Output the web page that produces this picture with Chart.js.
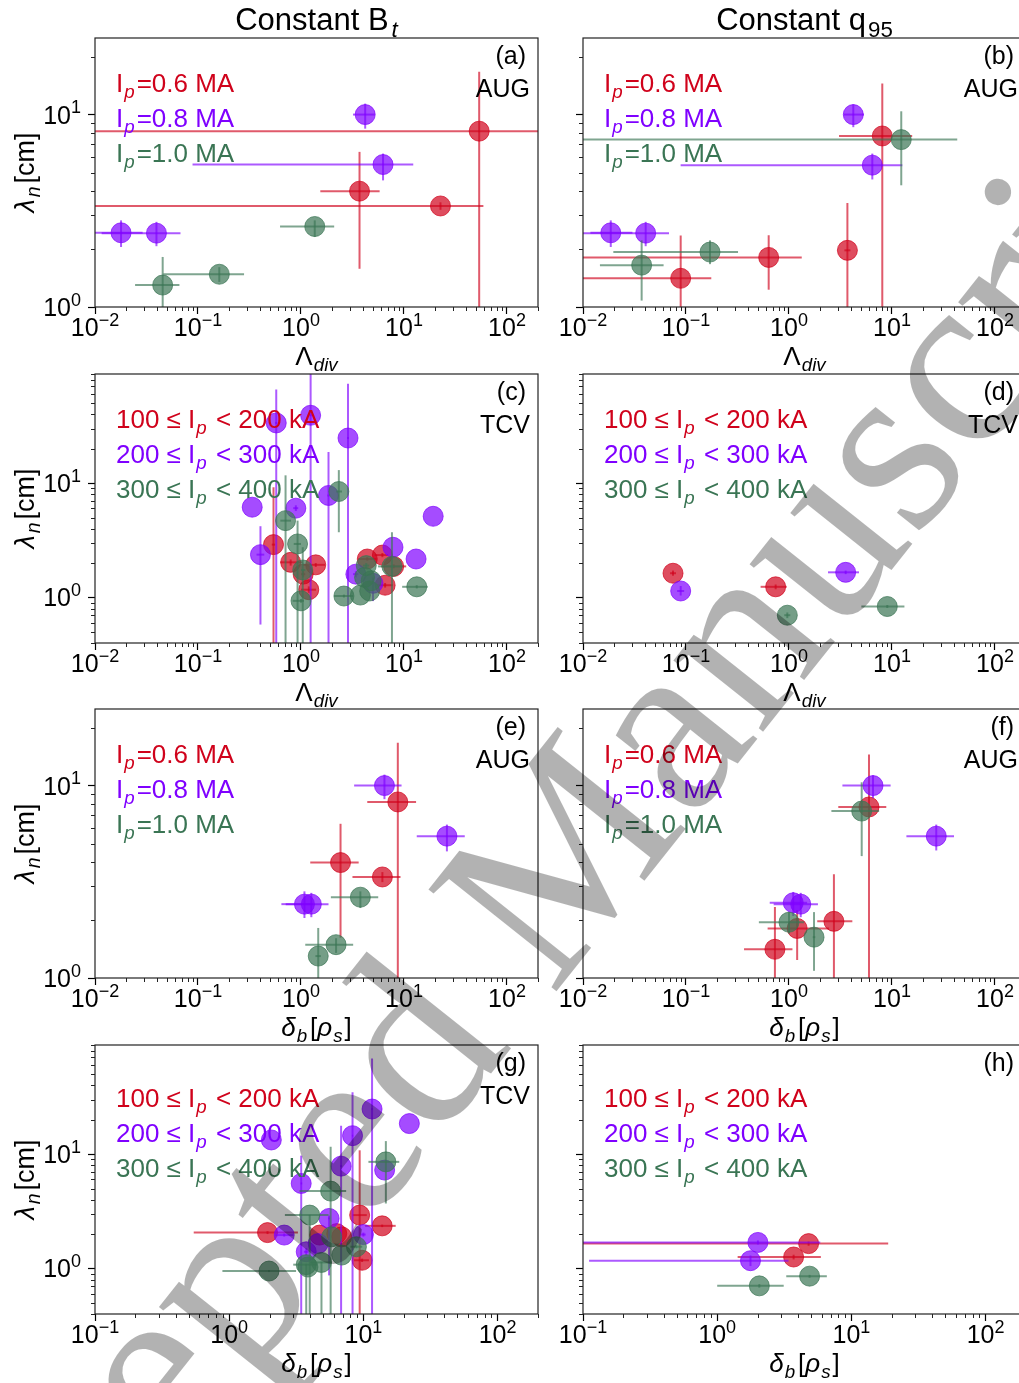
<!DOCTYPE html>
<html>
<head>
<meta charset="utf-8">
<script src="https://cdn.jsdelivr.net/npm/chart.js@4.4.1/dist/chart.umd.min.js"></script>
<style>
  html, body { margin: 0; padding: 0; background: #fff; overflow: hidden; width: 1019px; height: 1383px; }
  canvas { position: absolute; }
  #wm { pointer-events: none; z-index: 10; }
</style>
</head>
<body>
<script>
// rows: [x, y, xLow, xHigh, yLow, yHigh]  (missing = no bar)

// (a) constant Bt, AUG, vs Lambda_div
const btAugRed = [[53.7, 8.2, 0.001, 1000, 0.1, 16.7], [3.7, 4.0, 1.54, 5.8, 1.58, 6.4], [22.6, 3.35, 0.001, 59, 3.2, 3.5]];
const btAugPurple = [[4.2, 10.0, 3.2, 5.2, 8.45, 11.4], [6.26, 5.5, 0.0885, 12.3, 4.55, 6.27], [0.0179, 2.43, 0.0095, 0.029, 2.05, 2.82], [0.0395, 2.42, 0.0116, 0.0676, 2.07, 2.77]];
const btAugGreen = [[1.36, 2.62, 0.626, 2.1, 2.31, 2.82], [0.161, 1.48, 0.046, 0.28, 1.35, 1.61], [0.0454, 1.30, 0.0245, 0.066, 0.97, 1.82]];

// (b) constant q95, AUG, vs Lambda_div
const qAugRed = [[8.05, 7.74, 3.06, 15.7, 0.1, 14.5], [3.69, 1.97, 3.45, 3.95, 0.1, 3.47], [0.635, 1.81, 0.001, 1.33, 1.23, 2.36], [0.0888, 1.41, 0.001, 0.176, 0.1, 2.35]];
const qAugPurple = [[4.21, 10.0, 3.4, 5.35, 8.6, 11.3], [6.44, 5.46, 0.0887, 12.6, 4.6, 6.27], [0.0186, 2.43, 0.0118, 0.0302, 2.05, 2.82], [0.0406, 2.42, 0.001, 0.0684, 2.07, 2.77]];
const qAugGreen = [[12.3, 7.41, 0.001, 43, 4.29, 10.4], [0.171, 1.93, 0.0197, 0.32, 1.67, 2.22], [0.0371, 1.65, 0.0146, 0.0606, 1.08, 2.22]];

// (c) constant Bt, TCV, vs Lambda_div
const btTcvRed = [[0.541, 2.9, 0.52, 0.56, 0.1, 9.2], [0.794, 2.03, 0.63, 1.04, 1.9, 2.15], [1.05, 1.6, 1.0, 1.1, 1.5, 1.7], [1.39, 1.93, 1.04, 1.71, 1.85, 2.0], [1.19, 1.17, 1.0, 1.4, 1.1, 1.25], [4.4, 2.17, 3.6, 5.4, 2.1, 2.25], [6.17, 2.35, 5.2, 7.0, 2.25, 2.45], [7.94, 1.87, 6.0, 10.5, 1.8, 1.95], [6.56, 1.28, 5.5, 7.8, 1.22, 1.34]];
const btTcvPurple = [[0.336, 6.16], [0.404, 2.37, 0.37, 0.44, 0.58, 4.2], [0.575, 33.6, 0.56, 0.59, 0.1, 66], [1.24, 39.2, 1.2, 1.3, 0.1, 200], [0.891, 6.04, 0.84, 0.94, 5.7, 6.4], [1.85, 7.8, 1.8, 1.9, 0.1, 18.7], [2.86, 24.8, 2.8, 2.92, 0.1, 74], [19.2, 5.13], [7.82, 2.75], [13.1, 2.17], [3.41, 1.6, 3.2, 3.6, 1.5, 1.7], [5.0, 1.33, 4.7, 5.3, 0.93, 1.5]];
const btTcvGreen = [[2.33, 8.45, 2.2, 2.5, 3.72, 13], [0.708, 4.7, 0.63, 0.8, 0.1, 11.7], [0.926, 2.94, 0.85, 1.0, 0.1, 4.7], [1.04, 1.74, 1.0, 1.1, 0.1, 2.75], [1.0, 0.935, 0.83, 1.07, 0.9, 0.97], [2.61, 1.03, 2.1, 3.2, 1.0, 1.06], [3.77, 1.05], [4.64, 1.14], [4.3, 1.9, 4.0, 4.6, 1.8, 2.0], [7.64, 1.87, 5.6, 9.7, 0.1, 3.72], [13.3, 1.24, 9.6, 17, 1.2, 1.28], [4.14, 1.5], [4.8, 1.4]];

// (d) constant q95, TCV, vs Lambda_div
const qTcvRed = [[0.0748, 1.63, 0.07, 0.08, 1.55, 1.72], [0.742, 1.24, 0.53, 0.95, 1.18, 1.3]];
const qTcvPurple = [[0.0888, 1.14, 0.082, 0.096, 1.04, 1.26], [3.55, 1.66, 2.39, 4.78, 1.6, 1.72]];
const qTcvGreen = [[0.963, 0.70, 0.9, 1.03, 0.66, 0.74], [9.0, 0.834, 5.04, 13.2, 0.81, 0.86]];

// (e) constant Bt, AUG, vs delta_b
const btAugDbRed = [[8.71, 8.22, 4.4, 13.1, 0.1, 16.7], [2.42, 3.98, 1.23, 3.63, 1.62, 6.33], [6.17, 3.35, 3.16, 9.25, 3.15, 3.55]];
const btAugDbPurple = [[6.46, 10.0, 3.28, 9.47, 8.5, 11.4], [26.1, 5.46, 13.3, 38.9, 4.55, 6.27], [1.08, 2.42, 0.645, 1.3, 2.05, 2.82], [1.26, 2.42, 0.71, 1.85, 2.07, 2.77]];
const btAugDbGreen = [[3.77, 2.63, 1.95, 5.62, 2.31, 2.82], [2.19, 1.49, 1.1, 3.21, 1.35, 1.61], [1.47, 1.30, 1.38, 1.56, 0.97, 1.82]];

// (f) constant q95, AUG, vs delta_b
const qAugDbRed = [[5.98, 7.74, 3.01, 8.8, 0.1, 14.5], [2.73, 1.97, 1.88, 4.12, 0.1, 3.46], [1.2, 1.81, 0.62, 2.45, 1.24, 2.25], [0.73, 1.41, 0.366, 1.08, 0.1, 2.34]];
const qAugDbPurple = [[6.54, 10.0, 3.3, 9.7, 8.6, 11.3], [26.9, 5.46, 13.8, 40, 4.6, 6.27], [1.1, 2.46, 0.65, 1.5, 2.1, 2.8], [1.3, 2.42, 0.71, 1.91, 2.07, 2.77]];
const qAugDbGreen = [[5.08, 7.37, 2.58, 7.5, 4.3, 10.4], [1.0, 1.95, 0.51, 1.4, 1.7, 2.2], [1.75, 1.63, 1.7, 1.8, 1.09, 2.2]];

// (g) constant Bt, TCV, vs delta_b
const btTcvDbRed = [[1.93, 2.06, 0.544, 3.25, 2.0, 2.12], [9.38, 2.93, 8.3, 10.6, 0.1, 10.8], [13.8, 2.36, 10.3, 17.4, 2.3, 2.42], [9.78, 1.18, 8.5, 11, 1.14, 1.22], [6.33, 2.02], [6.89, 1.89], [4.72, 1.96]];
const btTcvDbPurple = [[2.06, 13.3], [3.44, 5.54, 3.4, 3.5, 0.1, 9.7], [8.3, 14.5, 8.2, 8.4, 0.1, 34.7], [11.6, 24.8, 11.4, 11.8, 0.1, 68.6], [22, 18.5], [6.82, 7.85, 6.7, 6.95, 0.1, 17.7], [14.4, 7.25], [5.55, 2.74, 5.45, 5.65, 0.87, 2.9], [2.57, 1.96, 2.2, 3.0, 1.9, 2.02], [10, 1.98, 9.6, 10.4, 1.9, 2.06], [3.75, 1.4, 3.6, 3.9, 1.3, 1.5], [4.6, 1.65]];
const btTcvDbGreen = [[14.7, 8.56, 10.9, 18.5, 3.7, 13], [5.7, 4.75, 3.34, 7.44, 0.1, 11.6], [3.98, 2.93, 2.6, 5.5, 0.1, 2.95], [1.98, 0.95, 0.89, 3.15, 0.93, 0.97], [3.75, 1.08, 3.0, 4.5, 0.1, 1.1], [4.87, 1.13, 4.0, 5.8, 0.1, 1.15], [6.89, 1.31], [5.8, 1.89], [8.87, 1.55, 8.0, 9.8, 1.5, 1.6], [3.86, 1.03]];

// (h) constant q95, TCV, vs delta_b
const qTcvDbRed = [[4.8, 1.65, 0.01, 18.8, 1.58, 1.72], [3.71, 1.26, 1.42, 5.92, 1.2, 1.32]];
const qTcvDbPurple = [[2.01, 1.69, 0.01, 5.86, 1.62, 1.76], [1.77, 1.17, 0.111, 3.4, 1.05, 1.3]];
const qTcvDbGreen = [[4.88, 0.857, 3.27, 6.56, 0.83, 0.88], [2.06, 0.705, 1.0, 3.13, 0.68, 0.73]];

// legend texts
const augCurrents = ['0.6', '0.8', '1.0'];
const tcvRanges = [['100', '200'], ['200', '300'], ['300', '400']];

const RGB = ['208,2,27', '127,0,255', '58,117,84'];
const FONT = '"Liberation Sans", Arial, sans-serif';

// page layout
const COLS = [95, 583];
const ROWS = [38, 374, 709, 1045];
const PW = 443, PH = 269;
const ML = 95, MT = 38, MR = 10, MB = 75;

// draw text made of pieces: [text, style] with style '', 'i', 'sub', 'subi', 'sup', or ['', 'gap', px]
function rich(ctx, x, y, parts, size, align) {
    let w = 0;
    const segs = parts.map(([t, st, gap]) => {
        if (st === 'gap') { w += gap; return { t: '', font: '', sw: gap, dy: 0 }; }
        const small = st.startsWith('sub') || st === 'sup';
        const fs = small ? size * 0.72 : size;
        const font = (st === 'i' || st === 'subi' ? 'italic ' : '') + fs + 'px ' + FONT;
        ctx.font = font;
        const sw = ctx.measureText(t).width;
        const dy = st.startsWith('sub') ? size * 0.22 : st === 'sup' ? -size * 0.42 : 0;
        w += sw;
        return { t, font, sw, dy };
    });
    let cx = align === 'center' ? x - w / 2 : align === 'right' ? x - w : x;
    ctx.textAlign = 'left';
    ctx.textBaseline = 'alphabetic';
    segs.forEach(s => {
        if (s.t) { ctx.font = s.font; ctx.fillText(s.t, cx, y + s.dy); }
        cx += s.sw;
    });
}

function powLabel(v) {
    const e = Math.round(Math.log10(v));
    return [['10', ''], [e < 0 ? '\u2212' + (-e) : String(e), 'sup']];
}

function majors(min, max) {
    const out = [];
    for (let e = Math.ceil(Math.log10(min) - 1e-9); e <= Math.floor(Math.log10(max) + 1e-9); e++) out.push({ value: Math.pow(10, e) });
    return out;
}

function minors(min, max) {
    const out = [];
    for (let e = Math.floor(Math.log10(min)) - 1; e <= Math.ceil(Math.log10(max)); e++) {
        for (let k = 2; k <= 9; k++) {
            const v = k * Math.pow(10, e);
            if (v >= min * 0.999 && v <= max * 1.001) out.push(v);
        }
    }
    return out;
}

const panels = [
    { col: 0, row: 0, xmin: 0.01, ymin: 1, ymax: 25, series: [btAugRed, btAugPurple, btAugGreen], aug: true, tag: '(a)', dev: 'AUG', xl: 'div', title: 'bt' },
    { col: 1, row: 0, xmin: 0.01, ymin: 1, ymax: 25, series: [qAugRed, qAugPurple, qAugGreen], aug: true, tag: '(b)', dev: 'AUG', xl: 'div', title: 'q' },
    { col: 0, row: 1, xmin: 0.01, ymin: 0.4, ymax: 90, series: [btTcvRed, btTcvPurple, btTcvGreen], aug: false, tag: '(c)', dev: 'TCV', xl: 'div' },
    { col: 1, row: 1, xmin: 0.01, ymin: 0.4, ymax: 90, series: [qTcvRed, qTcvPurple, qTcvGreen], aug: false, tag: '(d)', dev: 'TCV', xl: 'div' },
    { col: 0, row: 2, xmin: 0.01, ymin: 1, ymax: 25, series: [btAugDbRed, btAugDbPurple, btAugDbGreen], aug: true, tag: '(e)', dev: 'AUG', xl: 'db' },
    { col: 1, row: 2, xmin: 0.01, ymin: 1, ymax: 25, series: [qAugDbRed, qAugDbPurple, qAugDbGreen], aug: true, tag: '(f)', dev: 'AUG', xl: 'db' },
    { col: 0, row: 3, xmin: 0.1, ymin: 0.4, ymax: 90, series: [btTcvDbRed, btTcvDbPurple, btTcvDbGreen], aug: false, tag: '(g)', dev: 'TCV', xl: 'db', legY: 8 },
    { col: 1, row: 3, xmin: 0.1, ymin: 0.4, ymax: 90, series: [qTcvDbRed, qTcvDbPurple, qTcvDbGreen], aug: false, tag: '(h)', dev: '', xl: 'db', legY: 8 }
];

function makePanel(p) {
    const cv = document.createElement('canvas');
    cv.width = ML + PW + MR;
    cv.height = MT + PH + MB;
    cv.style.left = (COLS[p.col] - ML) + 'px';
    cv.style.top = (ROWS[p.row] - MT) + 'px';
    document.body.appendChild(cv);

    const deco = {
        id: 'deco',
        beforeDatasetDraw(chart, args) {
            const { ctx, chartArea: a, scales: { x, y } } = chart;
            const ds = chart.data.datasets[args.index];
            ctx.save();
            ctx.beginPath();
            ctx.rect(a.left, a.top, a.right - a.left, a.bottom - a.top);
            ctx.clip();
            ctx.strokeStyle = ds.barColor;
            ctx.lineWidth = 2;
            ds.data.forEach(d => {
                const px = x.getPixelForValue(d.x), py = y.getPixelForValue(d.y);
                if (d.xlo != null) {
                    ctx.beginPath();
                    ctx.moveTo(x.getPixelForValue(d.xlo), py);
                    ctx.lineTo(x.getPixelForValue(d.xhi), py);
                    ctx.stroke();
                }
                if (d.ylo != null) {
                    ctx.beginPath();
                    ctx.moveTo(px, y.getPixelForValue(d.ylo));
                    ctx.lineTo(px, y.getPixelForValue(d.yhi));
                    ctx.stroke();
                }
            });
            ctx.restore();
        },
        afterDraw(chart) {
            const { ctx, chartArea: a, scales: { x, y } } = chart;
            ctx.save();
            // frame
            ctx.strokeStyle = '#222';
            ctx.lineWidth = 1.2;
            ctx.strokeRect(a.left, a.top, a.right - a.left, a.bottom - a.top);
            // minor ticks
            ctx.lineWidth = 1;
            ctx.beginPath();
            minors(p.xmin, 200).forEach(v => {
                const px = Math.round(x.getPixelForValue(v)) + 0.5;
                ctx.moveTo(px, a.bottom); ctx.lineTo(px, a.bottom + 4);
            });
            minors(p.ymin, p.ymax).forEach(v => {
                const py = Math.round(y.getPixelForValue(v)) + 0.5;
                ctx.moveTo(a.left, py); ctx.lineTo(a.left - 4, py);
            });
            ctx.stroke();

            ctx.fillStyle = '#000';
            // tick labels
            majors(p.xmin, 200).forEach(t => rich(ctx, x.getPixelForValue(t.value), a.bottom + 29, powLabel(t.value), 25, 'center'));
            if (p.col === 0) {
                majors(p.ymin, p.ymax).forEach(t => rich(ctx, a.left - 14, y.getPixelForValue(t.value) + 9, powLabel(t.value), 25, 'right'));
                ctx.save();
                ctx.translate(34, (a.top + a.bottom) / 2);
                ctx.rotate(-Math.PI / 2);
                rich(ctx, 0, 0, [['\u03bb', 'i'], ['', 'gap', 2], ['n', 'subi'], ['', 'gap', 3], ['[cm]', '']], 27, 'center');
                ctx.restore();
            }
            // x axis label
            const cx = (a.left + a.right) / 2;
            if (p.xl === 'div') rich(ctx, cx, a.bottom + 58, [['\u039b', ''], ['', 'gap', 1], ['div', 'subi']], 26, 'center');
            else rich(ctx, cx, a.bottom + 58, [['\u03b4', 'i'], ['', 'gap', 1], ['b', 'subi'], ['', 'gap', 3], ['[', ''], ['\u03c1', 'i'], ['', 'gap', 1], ['s', 'subi'], ['', 'gap', 2], [']', '']], 26, 'center');
            // column title
            if (p.title === 'bt') rich(ctx, cx, a.top - 8, [['Constant B', ''], ['', 'gap', 3], ['t', 'subi']], 31, 'center');
            if (p.title === 'q') rich(ctx, cx, a.top - 8, [['Constant q', ''], ['', 'gap', 2], ['95', 'sub']], 31, 'center');
            // panel tag and device
            rich(ctx, a.right - 12, a.top + 26, [[p.tag, '']], 25, 'right');
            if (p.dev) rich(ctx, a.right - 8, a.top + 59, [[p.dev, '']], 25, 'right');
            // in-panel legend
            const ly = a.top + 54 + (p.legY || 0);
            for (let i = 0; i < 3; i++) {
                ctx.fillStyle = 'rgb(' + RGB[i] + ')';
                const parts = p.aug
                    ? [['I', ''], ['', 'gap', 1], ['p', 'subi'], ['', 'gap', 2], ['=' + augCurrents[i] + ' MA', '']]
                    : [[tcvRanges[i][0] + ' \u2264 I', ''], ['', 'gap', 1], ['p', 'subi'], ['', 'gap', 2], [' < ' + tcvRanges[i][1] + ' kA', '']];
                rich(ctx, a.left + 21, ly + i * 35, parts, 26, 'left');
            }
            ctx.restore();
        }
    };

    new Chart(cv, {
        type: 'scatter',
        data: {
            datasets: p.series.map((rows, i) => ({
                data: rows.map(r => ({ x: r[0], y: r[1], xlo: r[2], xhi: r[3], ylo: r[4], yhi: r[5] })),
                backgroundColor: 'rgba(' + RGB[i] + ',0.7)',
                borderColor: 'rgba(' + RGB[i] + ',0.7)',
                barColor: 'rgba(' + RGB[i] + ',0.65)',
                borderWidth: 1,
                pointRadius: 10,
                pointHoverRadius: 10,
                order: 3 - i
            }))
        },
        options: {
            responsive: false,
            animation: false,
            devicePixelRatio: 1,
            events: [],
            layout: { padding: { top: MT, right: MR, left: 0, bottom: 0 }, autoPadding: false },
            plugins: { legend: { display: false }, tooltip: { enabled: false } },
            scales: {
                x: {
                    type: 'logarithmic', min: p.xmin, max: 200, bounds: 'data',
                    afterBuildTicks: s => { s.ticks = majors(p.xmin, 200); },
                    afterFit: s => { s.height = MB; },
                    ticks: { display: false },
                    border: { display: false },
                    grid: { drawOnChartArea: false, tickLength: 7, tickWidth: 1.2, tickColor: '#000' }
                },
                y: {
                    type: 'logarithmic', min: p.ymin, max: p.ymax, bounds: 'data',
                    afterBuildTicks: s => { s.ticks = majors(p.ymin, p.ymax); },
                    afterFit: s => { s.width = ML; },
                    ticks: { display: false },
                    border: { display: false },
                    grid: { drawOnChartArea: false, tickLength: 7, tickWidth: 1.2, tickColor: '#000' }
                }
            }
        },
        plugins: [deco]
    });
}

panels.forEach(makePanel);

// "Accepted Manuscript" watermark across the page
const wm = document.createElement('canvas');
wm.id = 'wm';
wm.width = 1019;
wm.height = 1383;
wm.style.left = '0px';
wm.style.top = '0px';
document.body.appendChild(wm);
const g = wm.getContext('2d');
g.font = '250px "Liberation Serif", "Times New Roman", serif';
g.fillStyle = 'rgba(0,0,0,0.3)';
g.translate(552, 997);
g.rotate(-51.5 * Math.PI / 180);
g.fillText('Accepted Manuscript', -g.measureText('Accepted ').width, 0);
</script>
</body>
</html>
